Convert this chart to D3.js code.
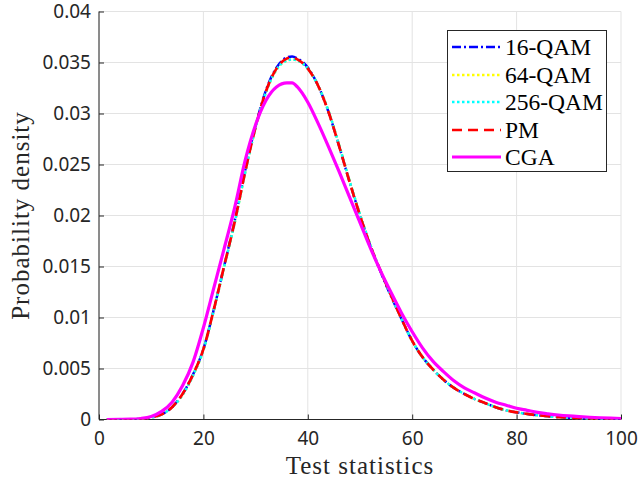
<!DOCTYPE html>
<html><head><meta charset="utf-8">
<script src="https://cdn.jsdelivr.net/npm/d3@7"></script>
<style>body{margin:0;background:#fff}svg{display:block}</style>
</head><body>
<script>
const xs = [1.5,4,6,8,10,12,14,16,18,20,22,24,26,28,30,32,34,36,37,38,40,42,44,46,48,50,52,54,56,58,60,62,64,66,68,70,72,74,76,78,80,82,84,86,88,90,92,94,96,98,100];
const qam16 = [0,0.00001,0.00002,0.00006,0.0002,0.0005,0.0012,0.0025,0.0044,0.0069,0.0108,0.0151,0.0195,0.0244,0.0288,0.0323,0.0345,0.0355,0.0356,0.0354,0.0345,0.0327,0.0301,0.0268,0.0233,0.0200,0.0170,0.0144,0.0120,0.0098,0.0077,0.0061,0.0049,0.0039,0.0031,0.0025,0.0020,0.0016,0.0012,0.0009,0.0007,0.00055,0.00042,0.00032,0.00024,0.00018,0.00013,0.0001,0.00007,0.00005,0.00004];
const qam64 = [0,0.00001,0.00002,0.00006,0.0002,0.0005,0.0012,0.0024,0.0043,0.0068,0.0107,0.0150,0.0193,0.0242,0.0286,0.0321,0.0343,0.0352,0.0353,0.0352,0.0344,0.0327,0.0302,0.0269,0.0234,0.0201,0.0171,0.0145,0.0121,0.0098,0.0077,0.0061,0.0049,0.0039,0.0031,0.0025,0.0020,0.0016,0.0012,0.0009,0.0007,0.00055,0.00042,0.00032,0.00024,0.00018,0.00013,0.0001,0.00007,0.00005,0.00004];
const qam256 = [0,0.00001,0.00002,0.00006,0.0002,0.0005,0.0012,0.0024,0.0043,0.0068,0.0107,0.0150,0.0193,0.0242,0.0286,0.0321,0.0343,0.0352,0.0353,0.0352,0.0344,0.0327,0.0302,0.0269,0.0234,0.0201,0.0171,0.0145,0.0121,0.0098,0.0077,0.0061,0.0049,0.0039,0.0031,0.0025,0.0020,0.0016,0.0012,0.0009,0.0007,0.00055,0.00042,0.00032,0.00024,0.00018,0.00013,0.0001,0.00007,0.00005,0.00004];
const pm = [0,0.00001,0.00002,0.00006,0.0002,0.0005,0.0012,0.0025,0.0044,0.0069,0.0108,0.0151,0.0194,0.0243,0.0287,0.0322,0.0344,0.0354,0.0355,0.0353,0.0344,0.0327,0.0301,0.0268,0.0233,0.0200,0.0170,0.0145,0.0121,0.0098,0.0077,0.0061,0.0049,0.0039,0.0031,0.0025,0.0020,0.0016,0.0012,0.0009,0.0007,0.00055,0.00042,0.00032,0.00024,0.00018,0.00013,0.0001,0.00007,0.00005,0.00004];
const cga = [0,0.00001,0.00003,0.0001,0.0003,0.0008,0.0017,0.0033,0.0056,0.0090,0.0129,0.0168,0.0208,0.0254,0.0289,0.0313,0.0326,0.0330,0.0330,0.0326,0.0311,0.0290,0.0267,0.0243,0.0218,0.0193,0.0168,0.0145,0.0124,0.0104,0.0086,0.0070,0.0057,0.0047,0.0038,0.0031,0.0026,0.0021,0.0017,0.0014,0.0011,0.0009,0.0007,0.00056,0.00044,0.00035,0.00028,0.00022,0.00017,0.00013,0.0001];
const seriesNames = ["16-QAM","64-QAM","256-QAM","PM","CGA"];
const xTicks = [0,20,40,60,80,100];
const yTicks = [0,0.005,0.01,0.015,0.02,0.025,0.03,0.035,0.04];
const yTickLabels = ["0","0.005","0.01","0.015","0.02","0.025","0.03","0.035","0.04"];

const W=639,H=483;
const L=99,R=621,T=11.5,B=419.5;
const svg=d3.select("body").append("svg").attr("width",W).attr("height",H);
const x=d3.scaleLinear().domain([0,100]).range([L,R]);
const y=d3.scaleLinear().domain([0,0.04]).range([B,T]);

// grid
const g=svg.append("g");
g.selectAll(".gx").data(xTicks).enter().append("line")
 .attr("x1",d=>x(d)).attr("x2",d=>x(d)).attr("y1",T).attr("y2",B)
 .attr("stroke","#e3e3e3").attr("stroke-width",1);
g.selectAll(".gy").data(yTicks).enter().append("line")
 .attr("y1",d=>y(d)).attr("y2",d=>y(d)).attr("x1",L).attr("x2",R)
 .attr("stroke","#e3e3e3").attr("stroke-width",1);

// axes
const xAxis=d3.axisBottom(x).tickValues(xTicks).tickSize(-5).tickPadding(12).tickFormat(d3.format("d"));
const yAxis=d3.axisLeft(y).tickValues(yTicks).tickSize(-5).tickPadding(8).tickFormat((d,i)=>yTickLabels[i]);
const ax=svg.append("g").attr("transform",`translate(0,${B})`).call(xAxis);
const ay=svg.append("g").attr("transform",`translate(${L},0)`).call(yAxis);
[ax,ay].forEach(a=>{
  a.select(".domain").attr("stroke","#262626").attr("stroke-width",1);
  a.selectAll(".tick line").attr("stroke","#262626");
  a.selectAll("text").attr("fill","#262626").style("font-family","'Noto Sans',sans-serif").style("font-size","19px");
});
ax.select(".domain").attr("d",`M${L},0H${R}`);
ay.select(".domain").attr("d",`M0,${B}V${T}`);

// curves
const line=d3.line().x((d,i)=>x(xs[i])).y(d=>y(d)).curve(d3.curveMonotoneX);
const styles=[
 {data:qam16,color:"#0000ff",dash:"9,3,2,3",w:2.5},
 {data:qam64,color:"#ffff00",dash:"2.5,2.5",w:2.5},
 {data:qam256,color:"#00ffff",dash:"2.5,2.5",w:2.5},
 {data:pm,color:"#ff0000",dash:"10,6",w:2.7},
 {data:cga,color:"#ff00ff",dash:null,w:3.2}
];
const clip=svg.append("clipPath").attr("id","c").append("rect").attr("x",L).attr("y",T-3).attr("width",R-L+3).attr("height",B-T+3);
const cg=svg.append("g").attr("clip-path","url(#c)");
styles.forEach(s=>{
 cg.append("path").attr("d",line(s.data)).attr("fill","none")
  .attr("stroke",s.color).attr("stroke-width",s.w)
  .attr("stroke-dasharray",s.dash).attr("stroke-linejoin","round");
});

// labels
svg.append("text").attr("x",(L+R)/2).attr("y",474).attr("text-anchor","middle")
 .style("font-family","'Liberation Serif',serif").style("font-size","25px").style("letter-spacing","1px").attr("fill","#262626").text("Test statistics");
svg.append("text").attr("transform",`translate(29,${(T+B)/2}) rotate(-90)`).attr("text-anchor","middle")
 .style("font-family","'Liberation Serif',serif").style("font-size","25px").style("letter-spacing","1px").attr("fill","#262626").text("Probability density");

// legend
const lg=svg.append("g");
lg.append("rect").attr("x",447.5).attr("y",30.5).attr("width",159).attr("height",141)
 .attr("fill","#fff").attr("stroke","#262626").attr("stroke-width",1);
const ly=[47,75,102,130,157];
styles.forEach((s,i)=>{
 lg.append("line").attr("x1",452).attr("x2",501).attr("y1",ly[i]).attr("y2",ly[i])
  .attr("stroke",s.color).attr("stroke-width",s.w).attr("stroke-dasharray",s.dash);
 lg.append("text").attr("x",505).attr("y",ly[i]+8)
  .style("font-family","'Liberation Serif',serif").style("font-size","23.5px").attr("fill","#000").text(seriesNames[i]);
});
</script>
</body></html>
